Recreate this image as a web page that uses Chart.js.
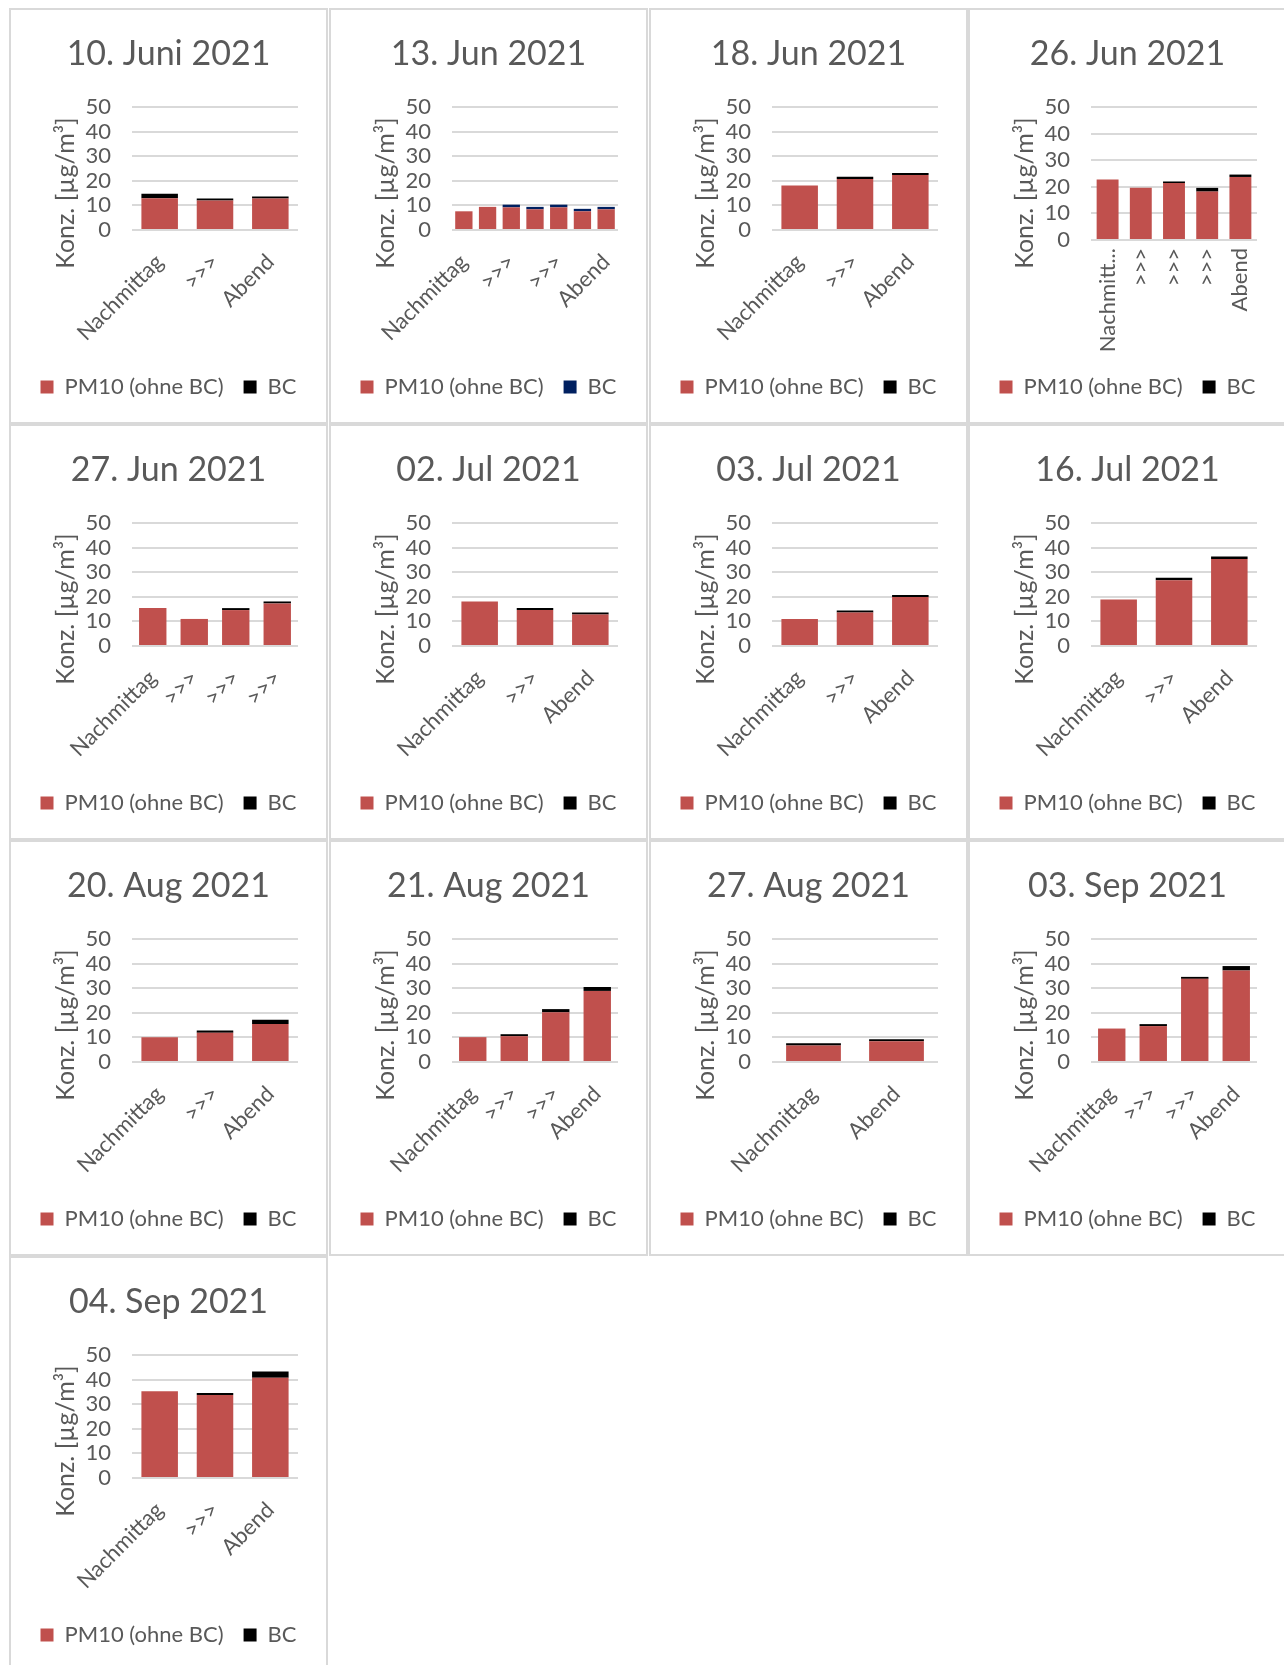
<!DOCTYPE html>
<html>
<head>
<meta charset="utf-8">
<script src="https://cdn.jsdelivr.net/npm/chart.js@4"></script>
<style>
  body { margin: 0; background: #fff; width: 1284px; height: 1665px; overflow: hidden; position: relative; }
  .panel { position: absolute; width: 319px; height: 416px; box-shadow: inset 0 0 0 2px #d9d9d9; }
  .panel canvas { position: absolute; left: 0; top: 0; }
</style>
</head>
<body>
<script>
/* PM10 / BC Konzentrationen pro Messtag */
const catsA     = ['Nachmittag', '>>>', 'Abend'];
const catsB     = ['Nachmittag', '>>>', '>>>', 'Abend'];
const cats13Jun = ['Nachmittag', '>>>', '>>>', '>>>', '>>>', '>>>', 'Abend'];
const cats26Jun = ['Nachmittag', '>>>', '>>>', '>>>', 'Abend'];
const cats27Jun = ['Nachmittag', '>>>', '>>>', '>>>'];
const cats27Aug = ['Nachmittag', 'Abend'];

const yTicks = [0, 10, 20, 30, 40, 50];

const pm10Jun10 = [12.9, 12.0, 12.8];              const bcJun10 = [1.8, 0.8, 0.8];
const pm10Jun13 = [7.6, 9.4, 9.2, 8.4, 9.2, 7.6, 8.4]; const bcJun13 = [0, 0, 1.1, 1.0, 1.1, 1.0, 1.0];
const pm10Jun18 = [18.1, 20.7, 22.4];              const bcJun18 = [0, 0.9, 0.8];
const pm10Jun26 = [22.7, 19.6, 21.4, 18.2, 23.7];  const bcJun26 = [0, 0, 0.6, 1.4, 0.9];
const pm10Jun27 = [15.4, 11.0, 14.6, 17.3];        const bcJun27 = [0, 0, 0.8, 0.8];
const pm10Jul02 = [18.1, 14.6, 12.8];              const bcJul02 = [0, 0.8, 0.8];
const pm10Jul03 = [11.0, 13.6, 19.9];              const bcJul03 = [0, 0.8, 0.8];
const pm10Jul16 = [18.9, 26.7, 35.4];              const bcJul16 = [0, 1.0, 1.0];
const pm10Aug20 = [10.1, 11.9, 15.4];              const bcAug20 = [0, 0.9, 1.8];
const pm10Aug21 = [10.1, 10.5, 20.2, 28.9];        const bcAug21 = [0, 0.8, 1.3, 1.6];
const pm10Aug27 = [6.7, 8.4];                      const bcAug27 = [0.9, 0.8];
const pm10Sep03 = [13.6, 14.6, 33.8, 37.2];        const bcSep03 = [0, 0.8, 0.8, 1.8];
const pm10Sep04 = [35.3, 33.7, 40.8];              const bcSep04 = [0, 0.9, 2.5];

const panels = [
  { title: '10. Juni 2021', cats: catsA,     pm: pm10Jun10, bc: bcJun10 },
  { title: '13. Jun 2021',  cats: cats13Jun, pm: pm10Jun13, bc: bcJun13, every: 2, bcColor: '#002060', barPct: 0.73 },
  { title: '18. Jun 2021',  cats: catsA,     pm: pm10Jun18, bc: bcJun18 },
  { title: '26. Jun 2021',  cats: cats26Jun, pm: pm10Jun26, bc: bcJun26, rot: 90, clip: 8 },
  { title: '27. Jun 2021',  cats: cats27Jun, pm: pm10Jun27, bc: bcJun27 },
  { title: '02. Jul 2021',  cats: catsA,     pm: pm10Jul02, bc: bcJul02 },
  { title: '03. Jul 2021',  cats: catsA,     pm: pm10Jul03, bc: bcJul03 },
  { title: '16. Jul 2021',  cats: catsA,     pm: pm10Jul16, bc: bcJul16 },
  { title: '20. Aug 2021',  cats: catsA,     pm: pm10Aug20, bc: bcAug20 },
  { title: '21. Aug 2021',  cats: catsB,     pm: pm10Aug21, bc: bcAug21 },
  { title: '27. Aug 2021',  cats: cats27Aug, pm: pm10Aug27, bc: bcAug27 },
  { title: '03. Sep 2021',  cats: catsB,     pm: pm10Sep03, bc: bcSep03 },
  { title: '04. Sep 2021',  cats: catsA,     pm: pm10Sep04, bc: bcSep04 },
];

const TEXT = '#595959';
const colLeft = [9, 329, 649, 968];
const rowTop  = [8, 424, 840, 1256];

Chart.defaults.font.family = 'Lato, "Open Sans", sans-serif';
Chart.defaults.color = TEXT;

// rotated y axis title, placed like in the Excel original
const yTitle = {
  id: 'yTitle',
  afterDraw(chart) {
    const ctx = chart.ctx;
    ctx.save();
    ctx.translate(57, 185);
    ctx.rotate(-Math.PI / 2);
    ctx.font = '25px Lato, "Open Sans", sans-serif';
    ctx.fillStyle = TEXT;
    ctx.textAlign = 'center';
    ctx.textBaseline = 'middle';
    ctx.fillText('Konz. [µg/m³]', 0, 0);
    ctx.restore();
  }
};

panels.forEach((p, i) => {
  const div = document.createElement('div');
  div.className = 'panel';
  div.style.left = colLeft[i % 4] + 'px';
  div.style.top  = rowTop[Math.floor(i / 4)] + 'px';
  const canvas = document.createElement('canvas');
  canvas.width = 319;
  canvas.height = 416;
  div.appendChild(canvas);
  document.body.appendChild(div);

  const rot = p.rot || 45;
  const xHeight = rot === 90 ? 116 : 126;

  new Chart(canvas.getContext('2d'), {
    type: 'bar',
    data: {
      labels: p.cats,
      datasets: [
        { label: 'PM10 (ohne BC)', data: p.pm, backgroundColor: '#C0504D' },
        { label: 'BC', data: p.bc, backgroundColor: p.bcColor || '#000000' }
      ]
    },
    options: {
      responsive: false,
      animation: false,
      layout: { padding: { left: 0, right: 0, top: 0, bottom: 16 } },
      datasets: { bar: { barPercentage: p.barPct || 0.66, categoryPercentage: 1, borderWidth: 0 } },
      plugins: {
        tooltip: { enabled: false },
        title: {
          display: true,
          text: p.title,
          color: TEXT,
          font: { size: 34, weight: 'normal' },
          padding: { top: 26, bottom: 32.2 }
        },
        legend: {
          position: 'bottom',
          labels: {
            color: TEXT,
            font: { size: 22 },
            boxWidth: 13,
            boxHeight: 13,
            padding: 20
          }
        }
      },
      scales: {
        x: {
          stacked: true,
          grid: { display: false, drawTicks: false },
          border: { display: false },
          afterFit: s => { s.height = xHeight; },
          ticks: {
            autoSkip: false,
            minRotation: rot,
            maxRotation: rot,
            padding: rot === 90 ? 8 : 19,
            font: { size: 22 },
            color: TEXT,
            callback: (v, idx) => {
              if (p.every && idx % p.every) return '';
              const lab = p.cats[idx];
              return p.clip && lab.length > p.clip ? lab.slice(0, p.clip) + '...' : lab;
            }
          }
        },
        y: {
          stacked: true,
          min: yTicks[0],
          max: yTicks[yTicks.length - 1],
          afterFit: s => { s.width = 123; },
          afterBuildTicks: s => { s.ticks = yTicks.map(v => ({ value: v })); },
          grid: { color: '#d9d9d9', lineWidth: 2, drawTicks: false },
          border: { display: false },
          ticks: { autoSkip: false, padding: 21, font: { size: 22 }, color: TEXT }
        },
        // empty right-hand axis that only reserves the margin right of the plot
        yGap: {
          position: 'right',
          grid: { display: false, drawTicks: false },
          border: { display: false },
          ticks: { display: false },
          afterFit: s => { s.width = 30; }
        }
      }
    },
    plugins: [yTitle]
  });
});
</script>
</body>
</html>
